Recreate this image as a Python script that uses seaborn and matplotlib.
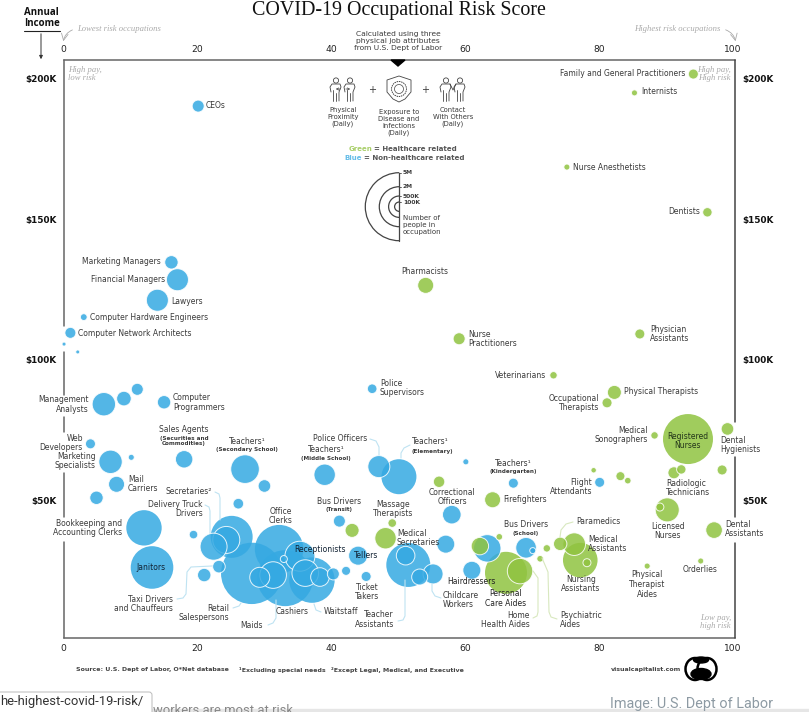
import numpy as np
import pandas as pd
import matplotlib
matplotlib.use("Agg")
import matplotlib.pyplot as plt
import seaborn as sns
from matplotlib.patches import Arc, Circle, Ellipse, FancyBboxPatch, Polygon, Rectangle

# risk score, income ($K), workers (thousands): blue = non healthcare
blue_risk = [20.1, 16.1, 17.0, 14.0, 3.0, 1.0, 0.05, 2.1, 46.1, 11.0, 9.0, 6.0, 15.0, 4.0, 7.0, 10.1, 18.0, 27.1, 30.0,
             39.0, 47.1, 50.1, 7.9, 4.9, 26.1, 12.0, 13.2, 19.4, 25.1, 24.3, 22.4, 23.2, 21.0, 32.2, 28.1, 33.1, 37.1,
             29.3, 31.3, 35.3, 36.1, 38.3, 40.3, 32.9, 42.2, 44.0, 45.2, 41.2, 51.5, 51.1, 53.2, 55.2, 58.0, 57.1,
             61.0, 63.3, 69.1, 70.1, 67.2, 60.1, 80.1]
blue_income = [190.2, 134.6, 128.4, 121.1, 115.1, 109.5, 105.5, 102.7, 89.6, 89.4, 86.1, 84.1, 84.8, 70.0, 63.6, 65.2,
               64.5, 61.0, 55.0, 59.0, 61.9, 58.3, 55.6, 50.8, 48.7, 40.1, 26.0, 37.7, 36.9, 35.8, 33.4, 26.3, 23.3,
               32.5, 23.9, 22.2, 21.5, 22.5, 23.3, 30.0, 24.0, 22.6, 23.7, 29.0, 24.8, 30.2, 22.8, 42.5, 26.9, 30.2,
               22.6, 23.7, 44.8, 34.3, 25.0, 32.8, 33.0, 32.0, 56.0, 63.6, 56.3]
blue_workers = [147, 183, 494, 494, 47, 123, 16, 16, 94, 147, 217, 558, 183, 102, 558, 37, 309, 834, 162, 467, 494, 1250,
                261, 183, 115, 1278, 1851, 75, 1799, 744, 744, 162, 183, 2409, 3845, 3199, 2102, 408, 722, 918, 722, 353,
                147, 50, 83, 368, 102, 147, 1975, 353, 261, 408, 353, 330, 330, 766, 433, 37, 102, 37, 102]

# green = healthcare
green_risk = [94.1, 85.3, 75.2, 96.2, 54.1, 59.1, 86.1, 73.2, 82.3, 81.2, 88.3, 93.3, 99.2, 98.4, 92.3, 91.2, 83.2, 84.3,
              79.2, 90.2, 89.1, 97.2, 95.2, 87.2, 56.1, 64.1, 74.2, 76.3, 77.2, 78.2, 72.2, 71.2, 65.1, 62.2, 66.1, 68.2,
              49.1, 48.1, 43.1]
green_income = [201.6, 194.9, 168.5, 152.4, 126.4, 107.4, 109.1, 94.4, 88.3, 84.6, 73.0, 71.7, 75.3, 60.7, 60.9, 59.7,
                58.5, 56.9, 60.6, 46.5, 47.5, 39.3, 28.3, 26.5, 56.5, 50.1, 34.4, 34.3, 28.6, 27.7, 32.8, 29.1, 36.9,
                33.6, 24.1, 24.7, 41.8, 36.4, 39.2]
green_workers = [102, 37, 37, 90, 261, 147, 102, 56, 200, 102, 56, 2550, 162, 102, 90, 147, 83, 44, 30, 588, 65, 281, 37,
                 37, 133, 261, 183, 521, 1221, 65, 56, 44, 44, 309, 1799, 658, 75, 467, 200]

x_ticks = [0, 20, 40, 60, 80, 100]
y_ticks = [50, 100, 150, 200]
y_tick_labels = ["$50K", "$100K", "$150K", "$200K"]

df = pd.DataFrame({
    "risk": blue_risk + green_risk,
    "income": blue_income + green_income,
    "workers": blue_workers + green_workers,
    "sector": ["other"] * len(blue_risk) + ["health"] * len(green_risk),
})
df = df.sort_values("workers", ascending=False)

sns.set_theme(style="white")
plt.rcParams["font.family"] = ["DejaVu Sans"]

BLUE = "#35A9E2"
GREEN = "#90C340"
TXT = "#3a3a3a"
FS = 5.5

W, H = 809, 712
fig = plt.figure(figsize=(W / 100, H / 100), dpi=100, facecolor="white")
ax = fig.add_axes([63.7 / W, (H - 638) / H, (735.5 - 63.7) / W, 578 / H])

# big bubbles go down first without an outline, the rest get a thin white ring
big = df["workers"] >= 1200
for part, lw in [(df[big], 0), (df[~big], 0.7)]:
    sns.scatterplot(data=part, x="risk", y="income", hue="sector", size="workers",
                    palette={"other": BLUE, "health": GREEN},
                    sizes=(0, 2540), size_norm=(0, 5000),
                    alpha=0.85, edgecolor="white", linewidth=lw, legend=False, ax=ax, clip_on=False)
ax.set_xlim(0, 100.4)
ax.set_ylim(0.9, 206.6)
ax.set_xticks(x_ticks)
ax.set_yticks(y_ticks)
ax.set_yticklabels(y_tick_labels)
ax.set_xlabel("")
ax.set_ylabel("")
ax.tick_params(axis="x", length=0, labeltop=True, labelbottom=True, labelsize=6.6, colors="#222", pad=4)
ax.tick_params(axis="y", length=0, labelleft=True, labelright=True, labelsize=6.4, colors="#111", pad=5)
for t in ax.get_yticklabels():
    t.set_fontweight("bold")
for side in ["left", "right"]:
    ax.spines[side].set_visible(False)
for side in ["top", "bottom"]:
    ax.spines[side].set_color("#666")
    ax.spines[side].set_linewidth(1.1)

# overlay in pixel coordinates for the annotation work
ov = fig.add_axes([0, 0, 1, 1], facecolor="none")
ov.set_xlim(0, W)
ov.set_ylim(H, 0)
ov.axis("off")

# side frame, broken where labels sit
for y0, y1 in [(60, 326), (352, 395), (417, 432), (473, 517), (542, 638)]:
    ov.plot([63.7, 63.7], [y0, y1], color="#666", lw=1.1)
for y0, y1 in [(60, 422), (457, 517), (543, 638)]:
    ov.plot([735.5, 735.5], [y0, y1], color="#444", lw=1.1)


def lab(s, x, y, ha="left", size=FS, color=TXT, **kw):
    ov.text(x, y, s, ha=ha, va="center", fontsize=size, color=color, linespacing=1.12, **kw)


def sub(s, x, y, ha="center"):
    lab(s, x, y, ha=ha, size=4.1, fontweight="bold")


def leader(pts, color="#bfe3f2"):
    xs, ys = zip(*pts)
    ov.plot(xs, ys, color=color, lw=0.8, solid_joinstyle="round", zorder=1)


# occupation labels
lab("CEOs", 206, 106)
lab("Marketing Managers", 161, 262, "right")
lab("Financial Managers", 165, 280, "right")
lab("Lawyers", 171, 302)
lab("Computer Hardware Engineers", 90, 317)
lab("Computer Network Architects", 78, 333)
lab("Management\nAnalysts", 89, 404.5, "right", multialignment="right")
lab("Computer\nProgrammers", 173, 402.5)
lab("Web\nDevelopers", 83, 443, "right", multialignment="right")
lab("Marketing\nSpecialists", 96, 461, "right", multialignment="right")
lab("Sales Agents", 184, 429, "center")
sub("(Securities and\nCommodities)", 184, 441)
lab("Teachers¹", 247, 441.5, "center")
sub("(Secondary School)", 247, 450)
lab("Teachers¹", 326, 450, "center")
sub("(Middle School)", 326, 458.5)
lab("Police Officers", 340, 438.5, "center")
lab("Teachers¹", 412, 442)
sub("(Elementary)", 412, 451, "left")
lab("Mail\nCarriers", 128, 484)
lab("Secretaries²", 212, 492, "right")
lab("Delivery Truck\nDrivers", 203, 509, "right", multialignment="right")
lab("Bookkeeping and\nAccounting Clerks", 122, 528, "right", multialignment="right")
lab("Office\nClerks", 281, 516, "center")
lab("Janitors", 151, 568, "center", color="#123")
lab("Receptionists", 320, 550, "center", color="#123")
lab("Tellers", 366, 556, "center", color="#123")
lab("Taxi Drivers\nand Chauffeurs", 173, 604, "right", multialignment="right")
lab("Retail\nSalespersons", 229, 613, "right", multialignment="right")
lab("Cashiers", 292, 611, "center")
lab("Maids", 252, 625, "center")
lab("Waitstaff", 324, 611)
lab("Ticket\nTakers", 367, 592, "center")
lab("Bus Drivers", 339, 502, "center")
sub("(Transit)", 339, 510)
lab("Massage\nTherapists", 393, 509, "center")
lab("Medical\nSecretaries", 397, 538)
lab("Teacher\nAssistants", 394, 619.5, "right", multialignment="right")
lab("Hairdressers", 471, 582, "center", color="#222")
lab("Childcare\nWorkers", 443, 600)
lab("Personal\nCare Aides", 505.5, 598.5, "center", color="#222")
lab("Home\nHealth Aides", 530, 620, "right", multialignment="right")
lab("Psychiatric\nAides", 560, 620)
lab("Bus Drivers", 526, 524.5, "center")
sub("(School)", 526, 533)
lab("Firefighters", 503, 500)
lab("Correctional\nOfficers", 452, 497, "center")
lab("Teachers¹", 513, 463.5, "center")
sub("(Kindergarten)", 513, 472)
lab("Flight\nAttendants", 592, 487, "right", multialignment="right")
lab("Paramedics", 576, 522)
lab("Medical\nAssistants", 588, 544)
lab("Nursing\nAssistants", 581, 584, "center")
lab("Physical\nTherapist\nAides", 647, 584.5, "center")
lab("Orderlies", 700, 570, "center")
lab("Licensed\nNurses", 668, 531, "center")
lab("Dental\nAssistants", 725, 529)
lab("Dental\nHygienists", 720, 445)
lab("Radiologic\nTechnicians", 666, 488)
lab("Registered\nNurses", 688, 441, "center", color="#23351a")
lab("Medical\nSonographers", 648, 435, "right", multialignment="right")
lab("Physical Therapists", 624, 392)
lab("Occupational\nTherapists", 599, 403, "right", multialignment="right")
lab("Veterinarians", 546, 375, "right")
lab("Police\nSupervisors", 380, 388)
lab("Physician\nAssistants", 650, 334)
lab("Nurse\nPractitioners", 468, 339)
lab("Pharmacists", 425, 271, "center")
lab("Dentists", 700, 212, "right")
lab("Nurse Anesthetists", 573, 167)
lab("Internists", 641, 92)
lab("Family and General Practitioners", 685, 74, "right")

# leader lines
leader([(370, 439), (376, 441), (379, 447), (379, 455)])
leader([(410, 445), (404, 448), (401, 453), (401, 458)])
leader([(215, 492), (219, 494), (220, 498), (220, 520)])
leader([(205, 505), (209, 507), (210, 511), (210, 533)])
leader([(177, 599), (183, 598), (186, 594), (187, 572), (191, 567), (212, 566)])
leader([(233, 608), (239, 606), (241, 603)])
leader([(268, 625), (273, 623), (276, 618), (276, 600)])
leader([(321, 612), (316, 610), (314, 604)])
leader([(398, 621), (403, 620), (405, 616), (405, 580)])
leader([(441, 598), (435, 596), (432, 591), (432, 584)])
leader([(533, 618), (537, 616), (538, 612), (538, 578), (533, 571)], "#d8e8bf")
leader([(557, 619), (551, 617), (549, 612), (548, 572), (542, 558)], "#d8e8bf")
leader([(573, 522), (566, 524), (561, 530), (560, 537)], "#d8e8bf")

# corner and top notes
serif_it = dict(family="Liberation Serif", style="italic", color="#aaa")
lab("High pay,\nlow risk", 68, 74, size=6.2, **serif_it)
lab("High pay,\nHigh risk", 731, 74, "right", size=6.2, multialignment="right", **serif_it)
lab("Low pay,\nhigh risk", 731, 622, "right", size=6.2, multialignment="right", **serif_it)
lab("Lowest risk occupations", 77, 29, size=6.2, **serif_it)
lab("Highest risk occupations", 720, 29, "right", size=6.2, **serif_it)
ov.annotate("", xy=(63, 44), xytext=(75, 29),
            arrowprops=dict(arrowstyle="->", color="#aaa", lw=0.6, connectionstyle="arc3,rad=0.35"))
ov.annotate("", xy=(736, 44), xytext=(723, 29),
            arrowprops=dict(arrowstyle="->", color="#aaa", lw=0.6, connectionstyle="arc3,rad=-0.35"))

ov.text(399, 10.5, "COVID-19 Occupational Risk Score", ha="center", va="center", fontsize=14.4,
        family="Liberation Serif", color="#111")
lab("Annual\nIncome", 24, 18, size=7, color="#111", fontweight="bold", family="Open Sans")
ov.plot([24, 60], [30.5, 30.5], color="#222", lw=0.8)
ov.annotate("", xy=(41, 62), xytext=(41, 31), arrowprops=dict(arrowstyle="-|>", color="#333", lw=0.7, mutation_scale=5))

lab("Calculated using three\nphysical job attributes\nfrom U.S. Dept of Labor", 398, 41, "center", size=5.4, multialignment="center")
ov.add_patch(Polygon([(391, 60), (405, 60), (398, 66)], color="black"))


# method icons
def person(x, y, flip=1):
    ov.add_patch(Circle((x, y - 9.5), 2.6, fill=False, ec="#444", lw=0.6))
    xs = [x - 5 * flip, x - 6 * flip, x - 4 * flip, x + 4 * flip, x + 5 * flip, x + 3 * flip, x + 3 * flip]
    ys = [y + 2, y - 3, y - 6, y - 6, y - 3, y + 2, y + 11]
    ov.plot(xs, ys, color="#444", lw=0.6)
    ov.plot([x - 3 * flip, x - 3 * flip], [y, y + 11], color="#444", lw=0.6)
    ov.plot([x, x], [y + 3, y + 11], color="#444", lw=0.6)


person(336, 90)
person(350, 90)
ov.annotate("", xy=(333, 89), xytext=(343, 89), arrowprops=dict(arrowstyle="->", color="#444", lw=0.5, mutation_scale=4))
ov.annotate("", xy=(353, 89), xytext=(343, 89), arrowprops=dict(arrowstyle="->", color="#444", lw=0.5, mutation_scale=4))
person(446, 90)
person(460, 90)
ov.plot([450, 453, 456], [84, 90, 84], color="#444", lw=0.6)
ov.add_patch(Polygon([(387, 80), (393, 78), (399, 76), (405, 78), (411, 80), (411, 92), (405, 99), (399, 102), (393, 99), (387, 92)],
                     fill=False, ec="#444", lw=0.6))
ov.add_patch(Circle((399, 89), 7.5, fill=False, ec="#444", lw=0.7, ls=(0, (1.5, 0.8))))
ov.add_patch(Circle((399, 89), 4.5, fill=False, ec="#444", lw=0.5))
lab("+", 372, 90, "center", size=7)
lab("+", 425, 90, "center", size=7)
lab("Physical\nProximity\n(Daily)", 343, 117, "center", size=4.9)
lab("Exposure to\nDisease and\nInfections\n(Daily)", 399, 122.5, "center", size=4.9)
lab("Contact\nWith Others\n(Daily)", 453, 117, "center", size=4.9)

# colour key
lab("Green", 372, 149, "right", size=5, color="#a9cf6a", fontweight="bold")
lab("= Healthcare related", 374, 149, size=5, fontweight="bold", color="#555")
lab("Blue", 362, 158, "right", size=5, color="#66bde8", fontweight="bold")
lab("= Non-healthcare related", 364, 158, size=5, fontweight="bold", color="#555")

# size key
cx, cy = 399.3, 206.7
for r in [34, 20, 10.7, 4.7]:
    ov.add_patch(Arc((cx, cy), 2 * r, 2 * r, theta1=90, theta2=270, color="#444", lw=0.9))
    ov.plot([cx, cx + 2], [cy - r, cy - r], color="#444", lw=0.6)
ov.plot([cx, cx], [cy - 34, cy + 34], color="#444", lw=0.9)
lab("5M", 403, 173, size=4.3, fontweight="bold")
lab("2M", 403, 187, size=4.3, fontweight="bold")
lab("500K", 403, 196, size=4.3, fontweight="bold")
lab("100K", 403, 202, size=4.3, fontweight="bold")
lab("Number of\npeople in\noccupation", 403, 225, size=5)

# footer
foot = dict(size=4.5, fontweight="bold", color="#444")
lab("Source: U.S. Dept of Labor, O*Net database", 76, 670, **foot)
lab("¹Excluding special needs", 239, 670, **foot)
lab("²Except Legal, Medical, and Executive", 331, 670, **foot)
lab("visualcapitalist.com", 611, 670, **foot)
ov.add_patch(Ellipse((695, 669), 19, 22, ec="black", fc="white", lw=1.8))
ov.add_patch(Ellipse((707, 669), 19, 22, ec="black", fc="white", lw=1.8))
ov.add_patch(Ellipse((701, 674), 20, 11, color="black"))
ov.add_patch(Ellipse((701, 660), 15, 6, color="black"))

# browser leftovers at the bottom of the screenshot
ov.add_patch(Rectangle((0, 709), W, 3, color="#e6e6e6", zorder=1))
lab("workers are most at risk", 153, 711, size=9.4, color="#888", family="Roboto", clip_on=True)
ov.add_patch(FancyBboxPatch((-6, 692), 158, 26, boxstyle="round,pad=0,rounding_size=3", fc="white", ec="#bbb", lw=0.7, zorder=3))
ov.text(0, 702, "he-highest-covid-19-risk/", ha="left", va="center", fontsize=9.4, color="#333", family="Roboto", zorder=4)
lab("Image: U.S. Dept of Labor", 610, 704, size=10.4, color="#8d9aa3", family="Roboto")

fig.savefig("out.png", dpi=100)
